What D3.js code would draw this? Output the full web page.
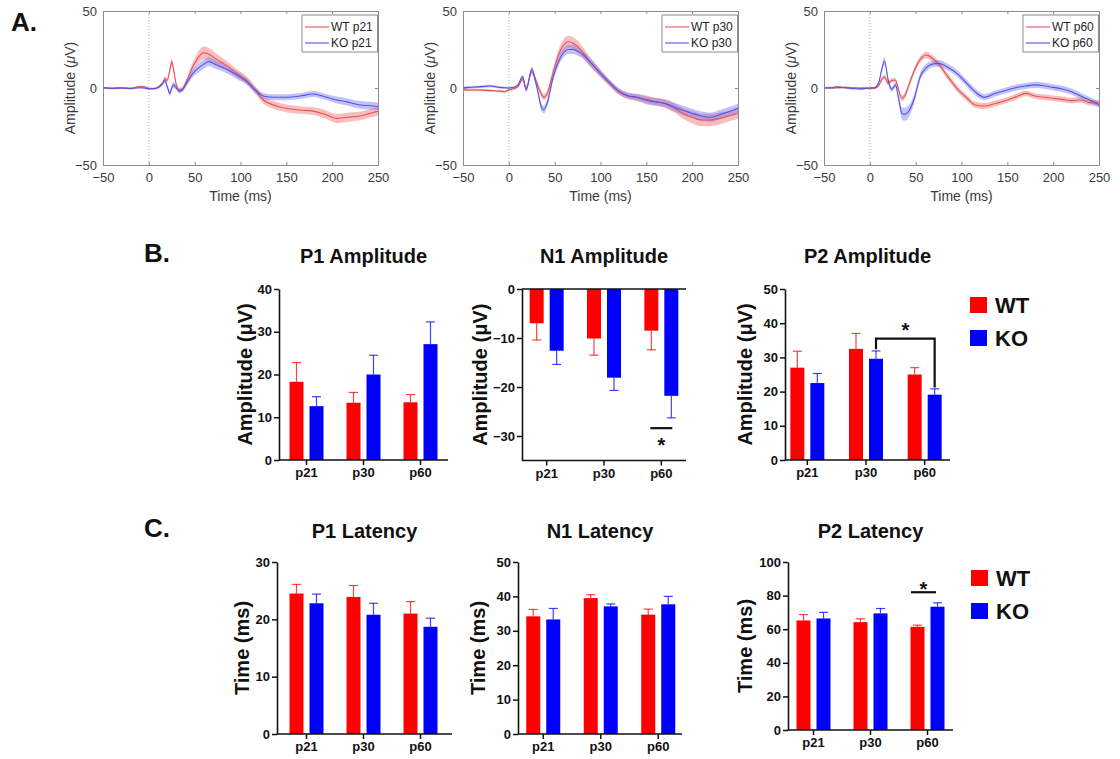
<!DOCTYPE html>
<html>
<head>
<meta charset="utf-8">
<script src="https://cdn.jsdelivr.net/npm/d3@7"></script>
<style>
  body { margin: 0; background: #fff; }
  svg { display: block; font-family: Arial, "Liberation Sans", Helvetica, sans-serif; }
</style>
</head>
<body>
<svg id="fig" width="1120" height="759"></svg>
<script>
// ---------------- Grand-average VEP waveforms (mean ± SEM, µV) ----------------
const t21 = [-50,-40,-30,-20,-10,-5,0,5,10,15,17.5,20,23,25,27,30,33,36,41,48,56,60,65,74,85,96,107,116,125,136,150,165,179,194,205,216,230,241,250];
const wt21 = [0.2,-0.3,0.1,-0.3,1.0,0.8,-0.3,-0.4,0.5,3.0,6.0,5.0,12.0,17.0,12.0,2.0,-1.3,-1.0,4.1,13.9,21.4,22.9,22.1,18.6,14.5,9.5,4.8,-1.3,-7.8,-11.0,-13.2,-14.3,-15.0,-17.5,-19.7,-19.0,-18.2,-16.5,-15.0];
const wt21Sem = [0.6,0.6,0.6,0.6,0.6,0.6,0.6,0.6,0.8,1.2,1.5,1.5,2.0,2.2,2.0,1.5,1.5,1.5,2.0,3.0,4.0,4.2,4.0,3.5,3.0,2.6,2.5,2.5,2.5,2.5,2.5,2.5,2.6,2.8,3.0,3.0,2.8,2.8,2.8];
const ko21 = [0.1,-0.2,0.0,-0.3,0.2,0.0,-0.5,-0.5,0.3,3.0,4.8,1.0,-3.5,0.0,2.0,0.0,-2.0,-1.5,3.0,9.5,13.9,15.5,17.1,14.9,12.1,8.4,4.1,-1.3,-5.2,-6.0,-6.0,-5.2,-3.9,-6.0,-7.8,-9.0,-11.0,-11.5,-12.0];
const ko21Sem = [0.6,0.6,0.6,0.6,0.6,0.6,0.6,0.6,0.8,1.2,1.5,1.5,2.0,2.0,2.0,1.5,1.5,1.5,2.0,2.5,3.0,3.0,3.0,2.8,2.5,2.5,2.2,2.0,2.0,2.0,2.0,2.0,2.0,2.0,2.2,2.3,2.5,2.5,2.5];

const t30 = [-50,-40,-30,-20,-10,-5,0,5,10,15,19,25,30,36,38,42,48,55,60,65,70,75,80,90,100,110,120,130,140,150,160,170,180,190,200,210,220,230,240,250];
const wt30 = [-1.2,-1.3,-1.3,-1.7,-2.0,-2.4,-1.3,-0.5,0.9,5.6,0.0,10.6,4.1,-4.5,-6.0,-3.5,9.5,22.7,28.0,30.0,29.0,27.0,23.6,16.0,9.5,3.0,-2.4,-5.2,-6.3,-7.4,-8.9,-10.0,-12.6,-16.5,-19.0,-20.8,-20.8,-19.7,-18.2,-16.5];
const wt30Sem = [0.8,0.8,0.8,0.8,0.8,0.8,0.8,0.8,0.8,1.2,1.5,2.0,2.0,2.0,2.0,2.0,2.5,3.5,4.0,4.0,4.0,3.8,3.5,3.0,2.5,2.0,2.0,2.0,2.2,2.5,2.5,2.8,3.0,3.5,4.0,4.0,4.0,3.8,3.5,3.5];
const ko30 = [0.2,0.5,0.9,1.3,0.4,0.2,0.0,0.3,2.0,7.4,-1.3,12.1,2.0,-13.0,-14.1,-9.5,6.3,18.2,23.2,25.0,25.0,23.8,22.0,16.0,9.5,3.5,-2.0,-5.0,-6.0,-8.0,-9.0,-10.0,-12.3,-14.5,-16.5,-18.2,-19.0,-17.3,-15.4,-13.2];
const ko30Sem = [0.8,0.8,0.8,0.8,0.8,0.8,0.8,0.8,0.8,1.2,1.5,2.0,2.0,2.5,2.5,2.5,2.5,2.8,3.0,3.0,3.0,2.8,2.5,2.5,2.2,2.0,2.0,2.0,2.2,2.5,2.5,2.5,2.8,3.0,3.0,3.0,3.0,3.0,3.0,3.0];

const t60 = [-50,-40,-35,-30,-20,-10,-5,0,5,10,13,16,20,24,28,31,35,38,42,48,55,62,68,75,85,95,105,115,125,135,150,160,170,180,190,200,210,220,230,240,250];
const wt60 = [0.0,0.3,0.9,0.3,0.2,0.0,0.0,-0.3,-0.2,2.0,5.5,7.2,3.0,5.0,5.0,-0.5,-6.7,-5.2,0.9,10.6,18.6,21.4,19.3,15.6,7.4,-0.2,-6.0,-11.0,-11.7,-10.4,-7.8,-5.6,-3.5,-5.2,-6.0,-6.7,-7.4,-8.2,-7.8,-9.5,-9.5];
const wt60Sem = [0.6,0.6,0.6,0.6,0.6,0.6,0.6,0.6,0.6,1.0,1.5,1.5,1.5,1.5,1.5,1.5,2.0,2.0,2.0,2.0,2.0,2.2,2.2,2.0,2.0,2.0,2.0,2.0,2.0,2.0,1.8,1.8,1.8,1.8,1.8,1.8,1.8,1.8,1.8,1.8,1.8];
const ko60 = [0.0,0.1,0.2,0.3,-0.3,-0.6,-0.3,0.0,0.2,4.1,12.0,17.5,5.2,-0.9,2.0,-5.6,-16.5,-17.1,-15.4,-7.8,7.4,13.4,15.5,16.0,13.5,9.5,3.5,-2.5,-6.0,-3.9,-1.3,0.3,1.3,2.0,1.5,0.4,-0.6,-2.4,-5.2,-7.8,-11.0];
const ko60Sem = [0.6,0.6,0.6,0.6,0.6,0.6,0.6,0.6,0.6,1.0,2.0,2.5,2.0,1.5,1.5,2.5,4.0,4.2,4.0,3.0,2.5,2.5,2.2,2.2,2.2,2.2,2.2,2.2,2.0,2.0,2.0,2.0,2.0,2.0,2.0,2.0,2.0,2.0,2.0,2.0,2.0];

const waveTicksX = [-50, 0, 50, 100, 150, 200, 250];
const waveTicksY = [-50, 0, 50];

// ---------------- Peak measures (mean, SEM) ----------------
const ages = ["p21", "p30", "p60"];
const genotypes = ["WT", "KO"];

const p1AmpWT = [18.3, 13.4, 13.5],   p1AmpWTSem = [4.5, 2.4, 1.8];
const p1AmpKO = [12.6, 20.0, 27.1],   p1AmpKOSem = [2.2, 4.5, 5.2];
const n1AmpWT = [-7.0, -10.1, -8.5],  n1AmpWTSem = [3.4, 3.4, 3.9];
const n1AmpKO = [-12.6, -18.1, -21.8], n1AmpKOSem = [2.8, 2.6, 4.5];
const p2AmpWT = [27.0, 32.5, 25.0],   p2AmpWTSem = [4.8, 4.5, 2.0];
const p2AmpKO = [22.5, 29.6, 19.1],   p2AmpKOSem = [2.8, 2.3, 1.7];

const p1LatWT = [24.5, 23.9, 21.0],   p1LatWTSem = [1.6, 2.0, 2.1];
const p1LatKO = [22.8, 20.8, 18.7],   p1LatKOSem = [1.6, 2.0, 1.5];
const n1LatWT = [34.2, 39.5, 34.7],   n1LatWTSem = [2.0, 1.0, 1.6];
const n1LatKO = [33.3, 37.1, 37.7],   n1LatKOSem = [3.2, 0.7, 2.3];
const p2LatWT = [65.2, 64.2, 61.4],   p2LatWTSem = [3.5, 2.0, 1.0];
const p2LatKO = [66.4, 69.4, 73.4],   p2LatKOSem = [3.6, 2.9, 2.3];

const ampTicksP1 = [0, 10, 20, 30, 40];
const ampTicksN1 = [0, -10, -20, -30];
const ampTicksP2 = [0, 10, 20, 30, 40, 50];
const latTicksP1 = [0, 10, 20, 30];
const latTicksN1 = [0, 10, 20, 30, 40, 50];
const latTicksP2 = [0, 20, 40, 60, 80, 100];

// ---------------- drawing ----------------
const svg = d3.select("#fig");
const WAVE_RED = "rgb(232,82,86)", WAVE_BLUE = "rgb(84,84,232)";
const BAND_RED = "rgba(240,110,110,0.45)", BAND_BLUE = "rgba(110,110,240,0.42)";
const BAR_RED = "#ff0000", BAR_BLUE = "#0000ff";

function panelLetter(txt, x, y) {
  svg.append("text").attr("x", x).attr("y", y).attr("font-size", 26)
    .attr("font-weight", "bold").attr("fill", "#111").text(txt);
}

function drawWave(box, times, wt, wtSem, ko, koSem, age) {
  const g = svg.append("g");
  const x = d3.scaleLinear().domain([-50, 250]).range([box.x0, box.x1]);
  const y = d3.scaleLinear().domain([-50, 50]).range([box.y1, box.y0]);
  const pts = times.map((t, i) => ({ t, wt: wt[i], ws: wtSem[i], ko: ko[i], ks: koSem[i] }));
  const band = (m, s) => d3.area().x(d => x(d.t))
    .y0(d => y(d[m] - d[s])).y1(d => y(d[m] + d[s])).curve(d3.curveMonotoneX);
  const line = m => d3.line().x(d => x(d.t)).y(d => y(d[m])).curve(d3.curveMonotoneX);

  // stimulus onset
  g.append("line").attr("x1", x(0)).attr("x2", x(0)).attr("y1", box.y0).attr("y2", box.y1)
    .attr("stroke", "#9a9a9a").attr("stroke-width", 0.8).attr("stroke-dasharray", "1,2");

  g.append("path").datum(pts).attr("d", band("wt", "ws")).attr("fill", BAND_RED);
  g.append("path").datum(pts).attr("d", band("ko", "ks")).attr("fill", BAND_BLUE);
  g.append("path").datum(pts).attr("d", line("wt")).attr("fill", "none")
    .attr("stroke", WAVE_RED).attr("stroke-width", 1.1);
  g.append("path").datum(pts).attr("d", line("ko")).attr("fill", "none")
    .attr("stroke", WAVE_BLUE).attr("stroke-width", 1.1);

  const styleAxis = sel => {
    sel.select(".domain").attr("stroke", "#8c8c8c");
    sel.selectAll(".tick line").attr("stroke", "#8c8c8c");
    sel.selectAll(".tick text").attr("fill", "#3a3a3a").attr("font-size", 13)
      .attr("font-family", "Arial, 'Liberation Sans', sans-serif");
  };
  g.append("g").attr("transform", `translate(0,${box.y1})`)
    .call(d3.axisBottom(x).tickValues(waveTicksX).tickSizeInner(-3).tickSizeOuter(0).tickPadding(8))
    .call(styleAxis);
  g.append("g").attr("transform", `translate(0,${box.y0})`)
    .call(d3.axisTop(x).tickValues(waveTicksX).tickSizeInner(-3).tickSizeOuter(0).tickFormat(""))
    .call(styleAxis);
  g.append("g").attr("transform", `translate(${box.x0},0)`)
    .call(d3.axisLeft(y).tickValues(waveTicksY).tickSizeInner(-3).tickSizeOuter(0).tickPadding(6))
    .call(styleAxis);
  g.append("g").attr("transform", `translate(${box.x1},0)`)
    .call(d3.axisRight(y).tickValues(waveTicksY).tickSizeInner(-3).tickSizeOuter(0).tickFormat(""))
    .call(styleAxis);

  // axis titles
  g.append("text").attr("x", (box.x0 + box.x1) / 2).attr("y", 201).attr("text-anchor", "middle")
    .attr("font-size", 14).attr("fill", "#3a3a3a").text("Time (ms)");
  const yl = g.append("text").attr("transform", `translate(${box.x0 - 33},${(box.y0 + box.y1) / 2}) rotate(-90)`)
    .attr("text-anchor", "middle").attr("dy", "0.35em").attr("font-size", 14).attr("fill", "#3a3a3a");
  yl.append("tspan").text("Amplitude (");
  yl.append("tspan").attr("font-style", "italic").text("\u03bc");
  yl.append("tspan").text("V)");

  // legend
  const lx = box.x1 - 76, ly = box.y0 + 4;
  g.append("rect").attr("x", lx).attr("y", ly).attr("width", 75.5).attr("height", 37)
    .attr("fill", "#fff").attr("stroke", "#8c8c8c").attr("stroke-width", 1);
  [["WT " + age, WAVE_RED], ["KO " + age, WAVE_BLUE]].forEach(([lab, col], i) => {
    const yy = ly + 12 + i * 16;
    g.append("line").attr("x1", lx + 3).attr("x2", lx + 27).attr("y1", yy).attr("y2", yy)
      .attr("stroke", col).attr("stroke-width", 1.1);
    g.append("text").attr("x", lx + 29).attr("y", yy).attr("dy", "0.36em")
      .attr("font-size", 12).attr("fill", "#262626").text(lab);
  });
}

function drawBars(cfg, wtMean, wtSem, koMean, koSem, ticks) {
  const g = svg.append("g");
  const y = d3.scaleLinear().domain(cfg.domain).range([cfg.yBottom, cfg.yTop]);
  const x = d3.scaleBand().domain(ages).range(cfg.xr).paddingInner(0).paddingOuter(0);
  const inner = d3.scaleBand().domain(genotypes).range([0, 34]).paddingInner(0.3).paddingOuter(0);
  const barX = (age, gt) => x(age) + x.bandwidth() / 2 - 17 + inner(gt);
  const rows = [];
  ages.forEach((a, i) => {
    rows.push({ age: a, gt: "WT", v: wtMean[i], e: wtSem[i], col: BAR_RED });
    rows.push({ age: a, gt: "KO", v: koMean[i], e: koSem[i], col: BAR_BLUE });
  });

  // error bars (outward half)
  rows.forEach(r => {
    const cx = barX(r.age, r.gt) + inner.bandwidth() / 2;
    const tip = r.v >= 0 ? r.v + r.e : r.v - r.e;
    g.append("line").attr("x1", cx).attr("x2", cx).attr("y1", y(r.v)).attr("y2", y(tip))
      .attr("stroke", r.col).attr("stroke-opacity", 0.75).attr("stroke-width", 1.2);
    g.append("line").attr("x1", cx - 4.5).attr("x2", cx + 4.5).attr("y1", y(tip)).attr("y2", y(tip))
      .attr("stroke", r.col).attr("stroke-opacity", 0.75).attr("stroke-width", 1.2);
  });
  g.selectAll("rect.bar").data(rows).join("rect").attr("class", "bar")
    .attr("x", r => barX(r.age, r.gt)).attr("width", inner.bandwidth())
    .attr("y", r => Math.min(y(0), y(r.v))).attr("height", r => Math.abs(y(r.v) - y(0)))
    .attr("fill", r => r.col);

  // axes
  const axStyle = sel => {
    sel.select(".domain").attr("stroke", "#111").attr("stroke-width", 1.6);
    sel.selectAll(".tick line").attr("stroke", "#111").attr("stroke-width", 1.5);
    sel.selectAll(".tick text").attr("fill", "#111").attr("font-size", 13).attr("font-weight", "bold")
      .attr("font-family", "Arial, 'Liberation Sans', sans-serif");
  };
  const base = cfg.yBottom;
  g.append("line").attr("x1", cfg.axisX).attr("x2", cfg.xEnd).attr("y1", base).attr("y2", base)
    .attr("stroke", "#111").attr("stroke-width", 1.6);
  if (cfg.domain[0] < 0) {
    g.append("line").attr("x1", cfg.axisX).attr("x2", cfg.xEnd).attr("y1", y(0)).attr("y2", y(0))
      .attr("stroke", "#111").attr("stroke-width", 1.6);
  }
  g.append("g").attr("transform", `translate(0,${base})`)
    .call(d3.axisBottom(x).tickSize(5).tickSizeOuter(0).tickPadding(3))
    .call(axStyle).call(s => s.select(".domain").remove());
  g.append("g").attr("transform", `translate(${cfg.axisX},0)`)
    .call(d3.axisLeft(y).tickValues(ticks).tickSize(5).tickSizeOuter(0).tickPadding(2))
    .call(axStyle);

  // titles
  g.append("text").attr("x", (cfg.axisX + cfg.xEnd) / 2).attr("y", cfg.titleY).attr("text-anchor", "middle")
    .attr("font-size", 20).attr("font-weight", "bold").attr("fill", "#111").text(cfg.title);
  g.append("text").attr("transform", `translate(${cfg.yLabelX},${(cfg.yTop + cfg.yBottom) / 2}) rotate(-90)`)
    .attr("text-anchor", "middle").attr("dy", "0.35em").attr("font-size", 20).attr("font-weight", "bold")
    .attr("fill", "#111").text(cfg.yLabel);

  // significance marks
  (cfg.sig || []).forEach(s => {
    if (s.type === "line") {
      const cx = x(s.age) + x.bandwidth() / 2 + s.dx;
      g.append("line").attr("x1", cx - s.half).attr("x2", cx + s.half).attr("y1", y(s.v)).attr("y2", y(s.v))
        .attr("stroke", "#111").attr("stroke-width", 2.2);
      g.append("text").attr("x", cx + s.sdx).attr("y", y(s.v) + s.starDy).attr("text-anchor", "middle")
        .attr("font-size", 20).attr("font-weight", "bold").attr("fill", "#111").text("*");
    } else {
      const xa = barX(s.from, "KO") + inner.bandwidth() / 2;
      const xb = barX(s.to, "KO") + inner.bandwidth() / 2;
      g.append("path").attr("d", `M${xa},${y(s.leftEnd)}V${y(s.v)}H${xb}V${y(s.rightEnd)}`)
        .attr("fill", "none").attr("stroke", "#111").attr("stroke-width", 2.2);
      g.append("text").attr("x", (xa + xb) / 2).attr("y", y(s.v) - 2).attr("text-anchor", "middle")
        .attr("font-size", 20).attr("font-weight", "bold").attr("fill", "#111").text("*");
    }
  });
}

function drawLegend(x, y) {
  [["WT", BAR_RED], ["KO", BAR_BLUE]].forEach(([lab, col], i) => {
    const yy = y + i * 33;
    svg.append("rect").attr("x", x).attr("y", yy).attr("width", 17).attr("height", 16).attr("fill", col);
    svg.append("text").attr("x", x + 25).attr("y", yy + 8).attr("dy", "0.36em")
      .attr("font-size", 22).attr("font-weight", "bold").attr("fill", "#111").text(lab);
  });
}

// Panel A
panelLetter("A.", 11, 31);
drawWave({ x0: 103, x1: 378, y0: 11, y1: 165 }, t21, wt21, wt21Sem, ko21, ko21Sem, "p21");
drawWave({ x0: 463, x1: 738, y0: 11, y1: 165 }, t30, wt30, wt30Sem, ko30, ko30Sem, "p30");
drawWave({ x0: 824, x1: 1099, y0: 11, y1: 165 }, t60, wt60, wt60Sem, ko60, ko60Sem, "p60");

// Panel B: amplitudes
panelLetter("B.", 144, 262);
drawBars({ title: "P1 Amplitude", yLabel: "Amplitude (\u03bcV)", domain: [0, 40], yTop: 289, yBottom: 460,
  axisX: 279, xEnd: 448, xr: [278, 449], titleY: 263, yLabelX: 245 },
  p1AmpWT, p1AmpWTSem, p1AmpKO, p1AmpKOSem, ampTicksP1);
drawBars({ title: "N1 Amplitude", yLabel: "Amplitude (\u03bcV)", domain: [-35, 0], yTop: 289, yBottom: 460.5,
  axisX: 522, xEnd: 686, xr: [518, 690], titleY: 263, yLabelX: 480,
  sig: [{ type: "line", age: "p60", v: -28.4, dx: 0, half: 11, sdx: 0, starDy: 24 }] },
  n1AmpWT, n1AmpWTSem, n1AmpKO, n1AmpKOSem, ampTicksN1);
drawBars({ title: "P2 Amplitude", yLabel: "Amplitude (\u03bcV)", domain: [0, 50], yTop: 289, yBottom: 460,
  axisX: 785, xEnd: 950, xr: [778, 954], titleY: 263, yLabelX: 745,
  sig: [{ type: "bracket", from: "p30", to: "p60", v: 35.5, leftEnd: 32.4, rightEnd: 21.2 }] },
  p2AmpWT, p2AmpWTSem, p2AmpKO, p2AmpKOSem, ampTicksP2);
drawLegend(970, 297);

// Panel C: latencies
panelLetter("C.", 144, 537);
drawBars({ title: "P1 Latency", yLabel: "Time (ms)", domain: [0, 30], yTop: 562, yBottom: 734,
  axisX: 277, xEnd: 452, xr: [278, 449], titleY: 538, yLabelX: 242 },
  p1LatWT, p1LatWTSem, p1LatKO, p1LatKOSem, latTicksP1);
drawBars({ title: "N1 Latency", yLabel: "Time (ms)", domain: [0, 50], yTop: 562, yBottom: 734,
  axisX: 518, xEnd: 682, xr: [514.5, 687], titleY: 538, yLabelX: 478 },
  n1LatWT, n1LatWTSem, n1LatKO, n1LatKOSem, latTicksN1);
drawBars({ title: "P2 Latency", yLabel: "Time (ms)", domain: [0, 100], yTop: 562, yBottom: 730,
  axisX: 788, xEnd: 953, xr: [785, 956], titleY: 538, yLabelX: 745,
  sig: [{ type: "line", age: "p60", v: 82, dx: -4, half: 12.5, sdx: 0, starDy: 4 }] },
  p2LatWT, p2LatWTSem, p2LatKO, p2LatKOSem, latTicksP2);
drawLegend(971, 570);
</script>
</body>
</html>
